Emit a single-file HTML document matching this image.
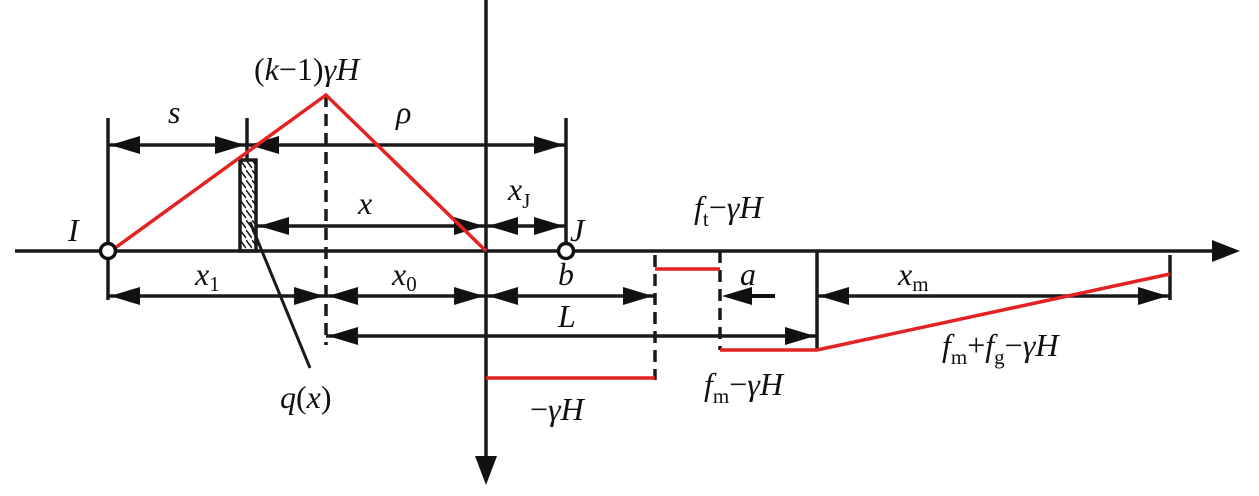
<!DOCTYPE html>
<html><head><meta charset="utf-8"><style>
body{margin:0;background:#fff}
text{font-family:"Liberation Serif","DejaVu Serif","Times New Roman",serif;font-style:italic;font-size:32px;fill:#111}
.s{font-style:normal;font-size:21px}
</style></head><body>
<svg width="1259" height="491" viewBox="0 0 1259 491" xmlns="http://www.w3.org/2000/svg" font-family="Liberation Serif, DejaVu Serif, serif">
<defs>
<pattern id="h" width="6" height="10" patternUnits="userSpaceOnUse"><path d="M0,0 L6,8" stroke="#111" stroke-width="1.5"/></pattern>
</defs>
<g stroke="#1a1a1a" stroke-width="3.5" fill="none">
<line x1="15" y1="251" x2="1215" y2="251"/>
<path d="M1212,240 L1240,251 L1212,262 z" fill="#111" stroke="none"/>
<line x1="486" y1="0" x2="486" y2="460"/>
<path d="M475,456 L486,485 L497,456 z" fill="#111" stroke="none"/>
<line x1="108" y1="118" x2="108" y2="300"/>
<line x1="247" y1="118" x2="247" y2="160"/>
<line x1="566" y1="118" x2="566" y2="245"/>
<line x1="326" y1="95" x2="326" y2="345" stroke-dasharray="12,7"/>
<line x1="655" y1="255" x2="655" y2="380" stroke-dasharray="12,7"/>
<line x1="720" y1="251" x2="720" y2="350" stroke-dasharray="12,7"/>
<line x1="817" y1="251" x2="817" y2="350"/>
<line x1="1170" y1="255" x2="1170" y2="300"/>
<rect x="240" y="160" width="16" height="91" fill="url(#h)"/>
<line x1="250" y1="222" x2="310" y2="368" stroke-width="3"/>
<path d="M108,145 H247 M247,145 H566 M257,226 H486 M486,226 H566 M108,296 H326 M326,296 H486 M486,296 H655 M817,296 H1170 M326,336 H817"/>
</g>
<g fill="#111">
<path d="M110,145 l30,-9 v18z M245,145 l-30,-9 v18z M249,145 l30,-9 v18z M564,145 l-30,-9 v18z"/>
<path d="M259,226 l30,-9 v18z M484,226 l-30,-9 v18z M488,226 l30,-9 v18z M564,226 l-30,-9 v18z"/>
<path d="M110,296 l30,-9 v18z M324,296 l-30,-9 v18z M328,296 l30,-9 v18z M484,296 l-30,-9 v18z M488,296 l30,-9 v18z M653,296 l-30,-9 v18z"/>
<path d="M722,296 l30,-9 v18z"/><rect x="740" y="294" width="35" height="4"/>
<path d="M819,296 l30,-9 v18z M1168,296 l-30,-9 v18z"/>
<path d="M328,336 l30,-9 v18z M815,336 l-30,-9 v18z"/>
</g>
<g stroke="#e32222" stroke-width="3.5" fill="none">
<polyline points="115,248 326,95 486,251"/>
<line x1="655" y1="269" x2="720" y2="269"/>
<line x1="486" y1="378" x2="655" y2="378"/>
<polyline points="720,350 817,350 1170,274"/>
</g>
<circle cx="108" cy="251" r="7.5" fill="#fff" stroke="#111" stroke-width="3.5"/>
<circle cx="566" cy="251" r="7.5" fill="#fff" stroke="#111" stroke-width="3.5"/>
<text x="254" y="80"><tspan font-style="normal">(</tspan>k<tspan font-style="normal">−1)</tspan>γH</text>
<text x="168" y="123">s</text>
<text x="396" y="123">ρ</text>
<text x="358" y="214">x</text>
<text x="508" y="200">x<tspan class="s" dy="8" font-style="italic">J</tspan></text>
<text x="68" y="241">I</text>
<text x="570" y="241">J</text>
<text x="195" y="285">x<tspan class="s" dy="6">1</tspan></text>
<text x="392" y="285">x<tspan class="s" dy="6">0</tspan></text>
<text x="558" y="285">b</text>
<text x="558" y="327">L</text>
<text x="740" y="285">a</text>
<text x="898" y="285">x<tspan class="s" dy="6">m</tspan></text>
<text x="694" y="218">f<tspan class="s" dy="8">t</tspan><tspan dy="-8" font-style="normal">−</tspan>γH</text>
<text x="704" y="395">f<tspan class="s" dy="8">m</tspan><tspan dy="-8" font-style="normal">−</tspan>γH</text>
<text x="942" y="356">f<tspan class="s" dy="8">m</tspan><tspan dy="-8" font-style="normal">+</tspan>f<tspan class="s" dy="8">g</tspan><tspan dy="-8" font-style="normal">−</tspan>γH</text>
<text x="530" y="420"><tspan font-style="normal">−</tspan>γH</text>
<text x="280" y="408">q<tspan font-style="normal">(</tspan>x<tspan font-style="normal">)</tspan></text>
</svg>
</body></html>
